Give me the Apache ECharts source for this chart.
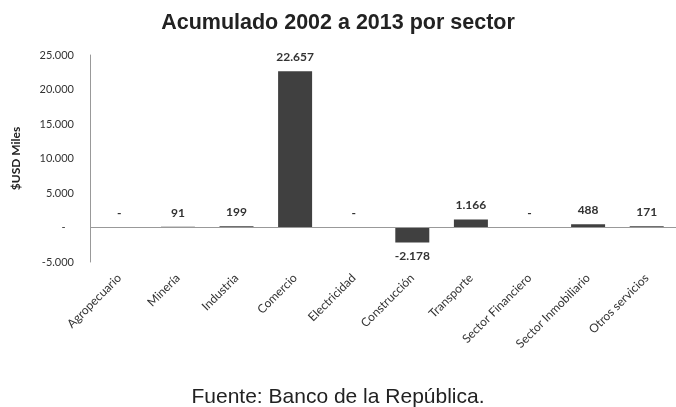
<!DOCTYPE html>
<html><head><meta charset="utf-8">
<script src="https://cdn.jsdelivr.net/npm/echarts@6/dist/echarts.min.js"></script>
<style>html,body{margin:0;padding:0;background:#fff}#c{width:676px;height:407px}</style>
</head><body><div id="c"></div>
<script>
const categories = ['Agropecuario','Minería','Industria','Comercio','Electricidad','Construcción','Transporte','Sector Financiero','Sector Inmobiliario','Otros servicios'];
const values = [0, 91, 199, 22657, 0, -2178, 1166, 0, 488, 171];
const yTicks = [-5000, 0, 5000, 10000, 15000, 20000, 25000];

function fmt(v){
  if (v === 0) return '-';
  const s = Math.abs(v).toString().replace(/\B(?=(\d{3})+(?!\d))/g, '.');
  return (v < 0 ? '-' : '') + s;
}
const chart = echarts.init(document.getElementById('c'));
chart.setOption({
  animation: false,
  backgroundColor: '#fff',
  title: [{
    text: 'Acumulado 2002 a 2013 por sector', left: 'center', top: 7,
    textStyle: {fontFamily: 'Liberation Sans', fontSize: 21.5, fontWeight: 'bold', color: '#222'}
  }, {
    text: 'Fuente: Banco de la República.', left: 'center', top: 382,
    textStyle: {fontFamily: 'Liberation Sans', fontSize: 21, fontWeight: 'normal', color: '#222'}
  }],
  grid: {left: 90, right: -14, top: 55, bottom: 145, containLabel: false},
  xAxis: {
    type: 'category', data: categories,
    axisLine: {show: false, onZero: false}, axisTick: {show: false},
    axisLabel: {rotate: 45, margin: 14, interval: 0, fontFamily: 'Lato', fontSize: 12, color: '#333'}
  },
  yAxis: {
    type: 'value', min: yTicks[0], max: yTicks[yTicks.length-1], interval: 5000,
    name: '$USD Miles', nameLocation: 'middle', nameGap: 68, nameRotate: 90,
    nameTextStyle: {fontFamily: 'Lato', fontSize: 12, fontWeight: 'bold', color: '#222'},
    axisLine: {show: true, lineStyle: {color: '#999'}}, axisTick: {show: false},
    splitLine: {show: false},
    axisLabel: {formatter: v => v === 0 ? '-   ' : fmt(v), fontFamily: 'Lato', fontSize: 11, color: '#333', margin: 16}
  },
  series: [{
    type: 'bar', barWidth: 34,
    data: values.map(v => ({value: v, label: {position: v < 0 ? 'bottom' : 'top'}})),
    itemStyle: {color: '#404040'},
    label: {show: true, distance: 8, formatter: p => fmt(p.value),
      fontFamily: 'Lato', fontSize: 12, fontWeight: 'bold', color: '#333'},
    markLine: {silent: true, symbol: 'none', label: {show: false},
      lineStyle: {color: '#999', type: 'solid', width: 1}, data: [{yAxis: 0}]}
  }]
});
</script></body></html>
